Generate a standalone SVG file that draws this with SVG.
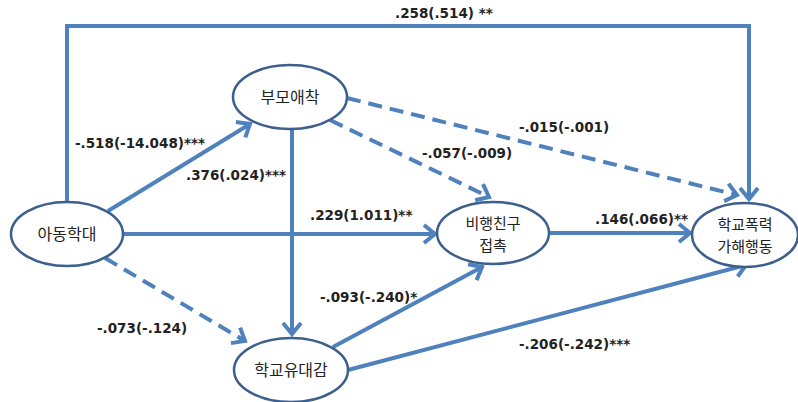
<svg xmlns="http://www.w3.org/2000/svg" width="798" height="402" viewBox="0 0 798 402">
<defs>
<style>
.c{fill:none;stroke:#4F81BD;stroke-width:4;marker-end:url(#ah)}
.d{stroke-dasharray:14 8}
.n{fill:#fff;stroke:#3D5F8C;stroke-width:2.5}
.t{font-family:"Noto Sans CJK KR","Noto Sans CJK SC",sans-serif;font-size:16px;fill:#222;text-anchor:middle}
.t2{font-size:15px}
.l{font-family:"DejaVu Sans",Verdana,sans-serif;font-weight:bold;font-size:13.5px;fill:#222}
</style>
<marker id="ah" markerUnits="userSpaceOnUse" markerWidth="30" markerHeight="30" refX="0" refY="0" orient="auto" overflow="visible">
<path d="M-11,-9 L0,0 L-11,9" fill="none" stroke="#4F81BD" stroke-width="4" stroke-dasharray="none"/>
</marker>
</defs>
<rect width="798" height="402" fill="#fff"/>
<g id="connectors">
<path class="c" d="M67,201 V26 H749 V199"/>
<path class="c" d="M108,211 L250,124"/>
<path class="c" d="M292,130 L292,334"/>
<path class="c" d="M124,234 L435,234"/>
<path class="c d" d="M105,258 L245,341"/>
<path class="c" d="M333,347 L482,267"/>
<path class="c" d="M348,370 L746,265"/>
<path class="c" d="M550,233 L690,233"/>
<path class="c d" d="M330,120 L489,197"/>
<path class="c d" d="M347,98 L737,195"/>
</g>
<g id="labels">
<text class="l" x="395" y="18">.258(.514) **</text>
<text class="l" x="75" y="148">-.518(-14.048)***</text>
<text class="l" x="186" y="180">.376(.024)***</text>
<text class="l" x="519" y="132">-.015(-.001)</text>
<text class="l" x="422" y="158">-.057(-.009)</text>
<text class="l" x="310" y="220">.229(1.011)**</text>
<text class="l" x="320" y="302">-.093(-.240)*</text>
<text class="l" x="97" y="333">-.073(-.124)</text>
<text class="l" x="595" y="224">.146(.066)**</text>
<text class="l" x="519" y="349">-.206(-.242)***</text>
</g>
<g id="node-abuse">
<ellipse class="n" cx="67" cy="234" rx="56" ry="32"/>
<text class="t" x="67" y="240">아동학대</text>
</g>
<g id="node-attachment">
<ellipse class="n" cx="290" cy="97" rx="57" ry="32"/>
<text class="t" x="290" y="103">부모애착</text>
</g>
<g id="node-bonding">
<ellipse class="n" cx="291" cy="370" rx="57" ry="32"/>
<text class="t" x="291" y="376">학교유대감</text>
</g>
<g id="node-peers">
<ellipse class="n" cx="493" cy="233" rx="56" ry="31"/>
<text class="t t2" x="493" y="229">비행친구</text>
<text class="t t2" x="493" y="251">접촉</text>
</g>
<g id="node-violence">
<ellipse class="n" cx="745" cy="235" rx="53" ry="32"/>
<text class="t t2" x="745" y="230">학교폭력</text>
<text class="t t2" x="745" y="252">가해행동</text>
</g>
</svg>
